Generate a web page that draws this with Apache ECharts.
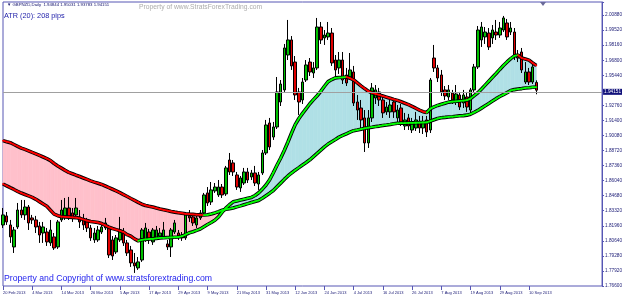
<!DOCTYPE html>
<html>
<head>
<meta charset="utf-8">
<script src="https://cdn.jsdelivr.net/npm/echarts@6/dist/echarts.min.js"></script>
<style>html,body{margin:0;padding:0;background:#fff;}#c{width:625px;height:298px;}</style>
</head>
<body>
<div id="c"></div>
<script>
// ---- DATA (GBPNZD Daily, one value per bar) ----
const opens = [
1.8207,1.8288,1.8207,1.8010,1.8189,1.8341,1.8297,1.8368,1.8270,1.8252,
1.8198,1.8135,1.8144,1.8046,1.8100,1.8010,1.8252,1.8288,1.8359,1.8315,
1.8297,1.8279,1.8261,1.8234,1.8180,1.8073,1.8073,1.8144,1.8180,1.8180,
1.8073,1.7965,1.8073,1.8135,1.8046,1.7983,1.7867,1.7822,1.7893,1.8073,
1.8144,1.8055,1.8091,1.8108,1.8100,1.8037,1.8010,1.8144,1.8135,1.8117,
1.8091,1.8288,1.8279,1.8207,1.8270,1.8315,1.8494,1.8413,1.8512,1.8476,
1.8547,1.8485,1.8789,1.8763,1.8655,1.8539,1.8583,1.8682,1.8637,1.8673,
1.8574,1.8673,1.8852,1.9121,1.8995,1.9085,1.9309,1.9417,1.9730,1.9865,
1.9667,1.9399,1.9327,1.9506,1.9667,1.9569,1.9614,1.9981,1.9883,1.9892,
1.9927,1.9685,1.9614,1.9685,1.9551,1.9533,1.9578,1.9309,1.9255,1.9166,
1.8942,1.9166,1.9345,1.9399,1.9327,1.9220,1.9220,1.9309,1.9166,1.9255,
1.9094,1.9166,1.9058,1.9076,1.9130,1.9076,1.9148,1.9058,1.9703,1.9614,
1.9551,1.9417,1.9354,1.9390,1.9309,1.9372,1.9300,1.9354,1.9237,1.9417,
1.9623,1.9865,1.9892,1.9927,1.9883,1.9936,1.9909,1.9954,2.0017,1.9936,
1.9936,1.9730,1.9757,1.9488,1.9578,1.9488,1.94844];
const closes = [
1.8297,1.8234,1.8100,1.8162,1.8341,1.8297,1.8368,1.8225,1.8252,1.8189,
1.8117,1.8189,1.8055,1.8162,1.8001,1.8234,1.8341,1.8359,1.8270,1.8270,
1.8359,1.8234,1.8207,1.8180,1.8091,1.8135,1.8162,1.8189,1.8225,1.7938,
1.7929,1.8091,1.8162,1.8046,1.7956,1.7867,1.7840,1.7876,1.8162,1.8180,
1.8073,1.8162,1.8162,1.8135,1.8162,1.8010,1.8162,1.8225,1.8100,1.8091,
1.8297,1.8270,1.8225,1.8270,1.8315,1.8476,1.8404,1.8521,1.8547,1.8547,
1.8476,1.8718,1.8682,1.8682,1.8547,1.8628,1.8682,1.8610,1.8673,1.8583,
1.8655,1.8852,1.9103,1.8906,1.9085,1.9399,1.9470,1.9793,1.9865,1.9632,
1.9372,1.9309,1.9488,1.9641,1.9578,1.9614,1.9981,1.9865,1.9909,1.9927,
1.9659,1.9596,1.9685,1.9506,1.9479,1.9596,1.9300,1.9237,1.9148,1.8942,
1.9166,1.9435,1.9417,1.9327,1.9211,1.9264,1.9282,1.9220,1.9237,1.9130,
1.9148,1.9094,1.9130,1.9148,1.9076,1.9130,1.9040,1.9506,1.9614,1.9524,
1.9399,1.9363,1.9417,1.9327,1.9381,1.9264,1.9372,1.9264,1.9417,1.9623,
1.9954,1.9981,1.9936,1.9802,1.9954,1.9909,1.9972,2.0062,1.9892,1.9972,
1.9730,1.9703,1.9596,1.9578,1.9488,1.9623,1.94151];
const lows = [
1.8180,1.8207,1.8046,1.7956,1.8171,1.8270,1.8252,1.8162,1.8216,1.8135,
1.8046,1.8046,1.8019,1.8019,1.7983,1.7992,1.8234,1.8252,1.8252,1.8234,
1.8270,1.8180,1.8162,1.8144,1.8064,1.8046,1.8055,1.8126,1.8162,1.7911,
1.7893,1.7947,1.8055,1.8019,1.7929,1.7831,1.7777,1.7804,1.7876,1.8055,
1.8037,1.8028,1.8073,1.8091,1.8082,1.7983,1.7920,1.8126,1.8073,1.8064,
1.8073,1.8234,1.8198,1.8180,1.8252,1.8288,1.8377,1.8386,1.8494,1.8458,
1.8449,1.8467,1.8655,1.8646,1.8521,1.8503,1.8565,1.8583,1.8610,1.8556,
1.8521,1.8655,1.8834,1.8879,1.8969,1.9067,1.9273,1.9399,1.9685,1.9596,
1.9327,1.9193,1.9291,1.9488,1.9542,1.9524,1.9596,1.9829,1.9820,1.9865,
1.9632,1.9524,1.9560,1.9470,1.9452,1.9506,1.9273,1.9148,1.9058,1.8861,
1.8897,1.9130,1.9291,1.9273,1.9166,1.9193,1.9166,1.9166,1.9130,1.9094,
1.9058,1.9058,1.9031,1.9049,1.9031,1.9022,1.8995,1.9031,1.9578,1.9488,
1.9363,1.9327,1.9327,1.9291,1.9282,1.9237,1.9255,1.9220,1.9202,1.9399,
1.9605,1.9802,1.9829,1.9775,1.9829,1.9865,1.9883,1.9936,1.9865,1.9909,
1.9685,1.9667,1.9569,1.9470,1.9461,1.9470,1.93783];
const highs = [
1.8359,1.8323,1.8252,1.8189,1.8404,1.8431,1.8431,1.8386,1.8297,1.8288,
1.8234,1.8234,1.8180,1.8252,1.8135,1.8252,1.8431,1.8449,1.8458,1.8359,
1.8449,1.8341,1.8306,1.8270,1.8207,1.8180,1.8198,1.8225,1.8270,1.8207,
1.8108,1.8117,1.8279,1.8180,1.8073,1.8019,1.7956,1.7920,1.8180,1.8225,
1.8171,1.8180,1.8198,1.8180,1.8234,1.8073,1.8180,1.8252,1.8162,1.8144,
1.8315,1.8341,1.8306,1.8288,1.8341,1.8494,1.8547,1.8592,1.8583,1.8610,
1.8574,1.8736,1.8852,1.8789,1.8682,1.8646,1.8718,1.8718,1.8700,1.8736,
1.8682,1.8879,1.9148,1.9166,1.9130,1.9533,1.9506,1.9829,2.0044,1.9900,
1.9721,1.9435,1.9524,1.9685,1.9703,1.9667,2.0062,2.0026,1.9954,2.0026,
1.9972,1.9730,1.9757,1.9757,1.9614,1.9748,1.9632,1.9372,1.9327,1.9237,
1.9237,1.9479,1.9461,1.9435,1.9363,1.9309,1.9327,1.9345,1.9282,1.9291,
1.9211,1.9202,1.9166,1.9220,1.9184,1.9184,1.9184,1.9524,1.9820,1.9641,
1.9596,1.9452,1.9461,1.9417,1.9461,1.9399,1.9417,1.9399,1.9435,1.9650,
1.9990,2.0026,1.9981,1.9972,1.9999,2.0044,2.0026,2.0080,2.0053,2.0026,
1.9972,1.9775,1.9793,1.9667,1.9614,1.9650,1.95031];
const fastMA = [
1.8574,1.8558,1.8541,1.8525,1.8508,1.8493,1.8480,1.8467,1.8454,1.8437,
1.8416,1.8395,1.8374,1.8339,1.8304,1.8290,1.8281,1.8279,1.8277,1.8275,
1.8273,1.8266,1.8256,1.8246,1.8238,1.8234,1.8229,1.8220,1.8203,1.8187,
1.8175,1.8165,1.8155,1.8143,1.8120,1.8106,1.8082,1.8065,1.8074,1.8077,
1.8081,1.8083,1.8087,1.8091,1.8092,1.8094,1.8095,1.8097,1.8099,1.8106,
1.8121,1.8137,1.8146,1.8159,1.8171,1.8191,1.8211,1.8229,1.8249,1.8279,
1.8322,1.8358,1.8388,1.8414,1.8422,1.8430,1.8438,1.8446,1.8454,1.8471,
1.8495,1.8528,1.8565,1.8612,1.8675,1.8742,1.8805,1.8875,1.8950,1.9031,
1.9106,1.9161,1.9207,1.9250,1.9293,1.9330,1.9365,1.9405,1.9450,1.9491,
1.9510,1.9525,1.9528,1.9530,1.9533,1.9522,1.9507,1.9480,1.9453,1.9429,
1.9406,1.9392,1.9382,1.9372,1.9362,1.9352,1.9342,1.9332,1.9323,1.9311,
1.9298,1.9285,1.9269,1.9253,1.9236,1.9222,1.9214,1.9249,1.9265,1.9278,
1.9288,1.9298,1.9308,1.9312,1.9315,1.9319,1.9322,1.9325,1.9339,1.9366,
1.9392,1.9425,1.9460,1.9495,1.9530,1.9565,1.9601,1.9636,1.9668,1.9698,
1.9722,1.9729,1.9703,1.9694,1.9684,1.9659,1.9636];
const slowMA = [
1.8963,1.8953,1.8944,1.8928,1.8912,1.8896,1.8884,1.8871,1.8857,1.8844,
1.8830,1.8816,1.8802,1.8784,1.8758,1.8736,1.8716,1.8696,1.8678,1.8666,
1.8653,1.8641,1.8628,1.8615,1.8602,1.8591,1.8581,1.8570,1.8556,1.8542,
1.8527,1.8512,1.8496,1.8479,1.8462,1.8444,1.8427,1.8410,1.8393,1.8382,
1.8374,1.8367,1.8358,1.8350,1.8343,1.8336,1.8328,1.8322,1.8317,1.8312,
1.8307,1.8304,1.8302,1.8299,1.8297,1.8296,1.8298,1.8306,1.8315,1.8326,
1.8339,1.8347,1.8353,1.8359,1.8369,1.8378,1.8388,1.8398,1.8408,1.8418,
1.8427,1.8446,1.8469,1.8492,1.8516,1.8549,1.8582,1.8615,1.8646,1.8673,
1.8698,1.8721,1.8745,1.8767,1.8791,1.8820,1.8849,1.8878,1.8907,1.8932,
1.8953,1.8973,1.8994,1.9009,1.9024,1.9039,1.9052,1.9058,1.9065,1.9073,
1.9079,1.9083,1.9089,1.9093,1.9099,1.9103,1.9108,1.9114,1.9118,1.9119,
1.9120,1.9121,1.9122,1.9123,1.9124,1.9125,1.9126,1.9137,1.9150,1.9161,
1.9168,1.9171,1.9175,1.9177,1.9181,1.9185,1.9187,1.9191,1.9200,1.9216,
1.9233,1.9254,1.9275,1.9296,1.9317,1.9339,1.9358,1.9375,1.9393,1.9412,
1.9420,1.9425,1.9429,1.9435,1.9437,1.9441,1.9443];
const yTickLabels = ['1.76600','1.77920','1.79280','1.80640','1.81960','1.83320','1.84680','1.86040','1.87360','1.88720','1.90080','1.91400','1.92760','','1.95440','1.96800','1.98160','1.99520','2.00880'];
const lastPrice = 1.94151;
const firstDate = [2013, 1, 20];
const futureSlots = 18;

// ---- categories: trading days ----
const MON = ['Jan','Feb','Mar','Apr','May','Jun','Jul','Aug','Sep','Oct','Nov','Dec'];
const categories = [];
let d = new Date(Date.UTC(firstDate[0], firstDate[1], firstDate[2]));
while (categories.length < opens.length) {
  const wd = d.getUTCDay();
  if (wd !== 0 && wd !== 6) categories.push(d.getUTCDate() + ' ' + MON[d.getUTCMonth()] + ' ' + d.getUTCFullYear());
  d = new Date(d.getTime() + 86400000);
}
for (let k = 0; k < futureSlots; k++) categories.push('');

const yMin = 1.766, yStep = 0.0134889, yMax = 2.0205;
const FRAME = '#5656b4', TXT = '#22227a', FONT = 'Liberation Sans, Arial, sans-serif';
const PINK = '#ffc0cb', BLUE = '#b0e0e6', RED = '#ff0000', LIME = '#00ff00';
const showIdx = (i, v) => i % 8 === 0 && v !== '';

function colorLine(arr) {
  return {
    type: 'custom', z: 4, silent: true, animation: false,
    data: arr.map((v, i) => [i, v]), encode: { x: 0, y: 1 },
    renderItem(params, api) {
      const i = api.value(0);
      if (i < 1) return null;
      const p0 = api.coord([i - 1, arr[i - 1]]), p1 = api.coord([i, arr[i]]);
      const c = arr[i] >= arr[i - 1] ? LIME : RED;
      return { type: 'line', shape: { x1: p0[0], y1: p0[1], x2: p1[0], y2: p1[1] }, style: { stroke: c, lineWidth: 1.8, lineCap: 'round' } };
    }
  };
}
function blackLine(arr) {
  return { type: 'line', data: arr, symbol: 'none', z: 3, silent: true, animation: false, lineStyle: { color: '#000', width: 3.6 } };
}

const chart = echarts.init(document.getElementById('c'), null, { renderer: 'canvas' });
chart.setOption({
  animation: false,
  backgroundColor: '#fff',
  grid: { left: 2, right: 21, top: 2, bottom: 12, show: true, borderColor: FRAME, borderWidth: 1, backgroundColor: '#fff' },
  xAxis: {
    type: 'category', data: categories, boundaryGap: false,
    axisLine: { show: false },
    axisTick: { show: true, interval: showIdx, length: 4, lineStyle: { color: FRAME } },
    axisLabel: { interval: showIdx, align: 'left', fontSize: 4, color: TXT, margin: 5, fontFamily: FONT },
    splitLine: { show: false }
  },
  yAxis: {
    type: 'value', position: 'right', min: yMin, max: yMax, interval: yStep, scale: true,
    axisLine: { show: true, lineStyle: { color: FRAME } },
    axisTick: { show: true, length: 2, lineStyle: { color: FRAME } },
    axisLabel: {
      fontSize: 4.7, color: TXT, margin: 3, fontFamily: FONT,
      formatter: v => {
        const k = Math.round((v - yMin) / yStep);
        if (Math.abs(v - (yMin + k * yStep)) > yStep * 0.02) return '';
        return yTickLabels[k] || '';
      }
    },
    splitLine: { show: false }
  },
  series: [
    {
      type: 'custom', z: 1, silent: true, animation: false,
      data: fastMA.map((v, i) => [i, v, slowMA[i]]), encode: { x: 0, y: [1, 2] },
      renderItem(params, api) {
        const i = api.value(0);
        if (i < 1) return null;
        const f0 = fastMA[i - 1], f1 = fastMA[i], s0 = slowMA[i - 1], s1 = slowMA[i];
        const a0 = api.coord([i - 1, f0]), a1 = api.coord([i, f1]);
        const b0 = api.coord([i - 1, s0]), b1 = api.coord([i, s1]);
        const d0 = f0 - s0, d1 = f1 - s1;
        const col = x => (x >= 0 ? BLUE : PINK);
        const poly = (pts, c) => ({ type: 'polygon', shape: { points: pts }, style: { fill: c, stroke: c, lineWidth: 0.6 } });
        if (d0 * d1 >= 0) return poly([a0, a1, b1, b0], col(d0 + d1));
        const t = d0 / (d0 - d1);
        const cx = [a0[0] + (a1[0] - a0[0]) * t, a0[1] + (a1[1] - a0[1]) * t];
        return { type: 'group', children: [poly([a0, cx, b0], col(d0)), poly([cx, a1, b1], col(d1))] };
      }
    },
    {
      type: 'candlestick', z: 2, silent: true, animation: false, barWidth: 3,
      data: opens.map((o, i) => [o, closes[i], lows[i], highs[i]]),
      itemStyle: { color: '#00c000', color0: '#e00000', borderColor: '#000', borderColor0: '#000', borderWidth: 1 },
      markLine: {
        silent: true, symbol: ['none', 'none'], animation: false,
        data: [{ yAxis: lastPrice }],
        lineStyle: { color: '#a0a0a0', width: 1, type: 'solid' },
        label: { show: true, position: 'end', formatter: lastPrice.toFixed(5), color: '#fff', backgroundColor: '#10107a', fontSize: 4.7, fontFamily: FONT, padding: [1, 1, 0, 1], distance: 1 }
      }
    },
    blackLine(slowMA),
    blackLine(fastMA),
    colorLine(slowMA),
    colorLine(fastMA)
  ],
  graphic: [
    { type: 'text', x: 7, y: 5, silent: true, style: { text: '\u25BC GBPNZD,Daily  1.94844 1.95031 1.93783 1.94151', fontSize: 4.3, fontFamily: FONT, fill: '#10106a', verticalAlign: 'middle' } },
    { type: 'text', x: 139, y: 6.7, silent: true, style: { text: 'Property of www.StratsForexTrading.com', fontSize: 6.75, fontFamily: FONT, fill: '#acacac', verticalAlign: 'middle' } },
    { type: 'text', x: 4, y: 16, silent: true, style: { text: 'ATR (20): 208 pips', fontSize: 7.3, fontFamily: FONT, fill: '#1c1ca8', verticalAlign: 'middle' } },
    { type: 'text', x: 4, y: 279, silent: true, style: { text: 'Property and Copyright of www.stratsforextrading.com', fontSize: 8.7, fontFamily: FONT, fill: '#2424ee', verticalAlign: 'middle' } },
    { type: 'polygon', silent: true, shape: { points: [[540, 2], [546, 2], [543, 6]] }, style: { fill: '#6a6a9a' } }
  ]
});
</script>
</body>
</html>
